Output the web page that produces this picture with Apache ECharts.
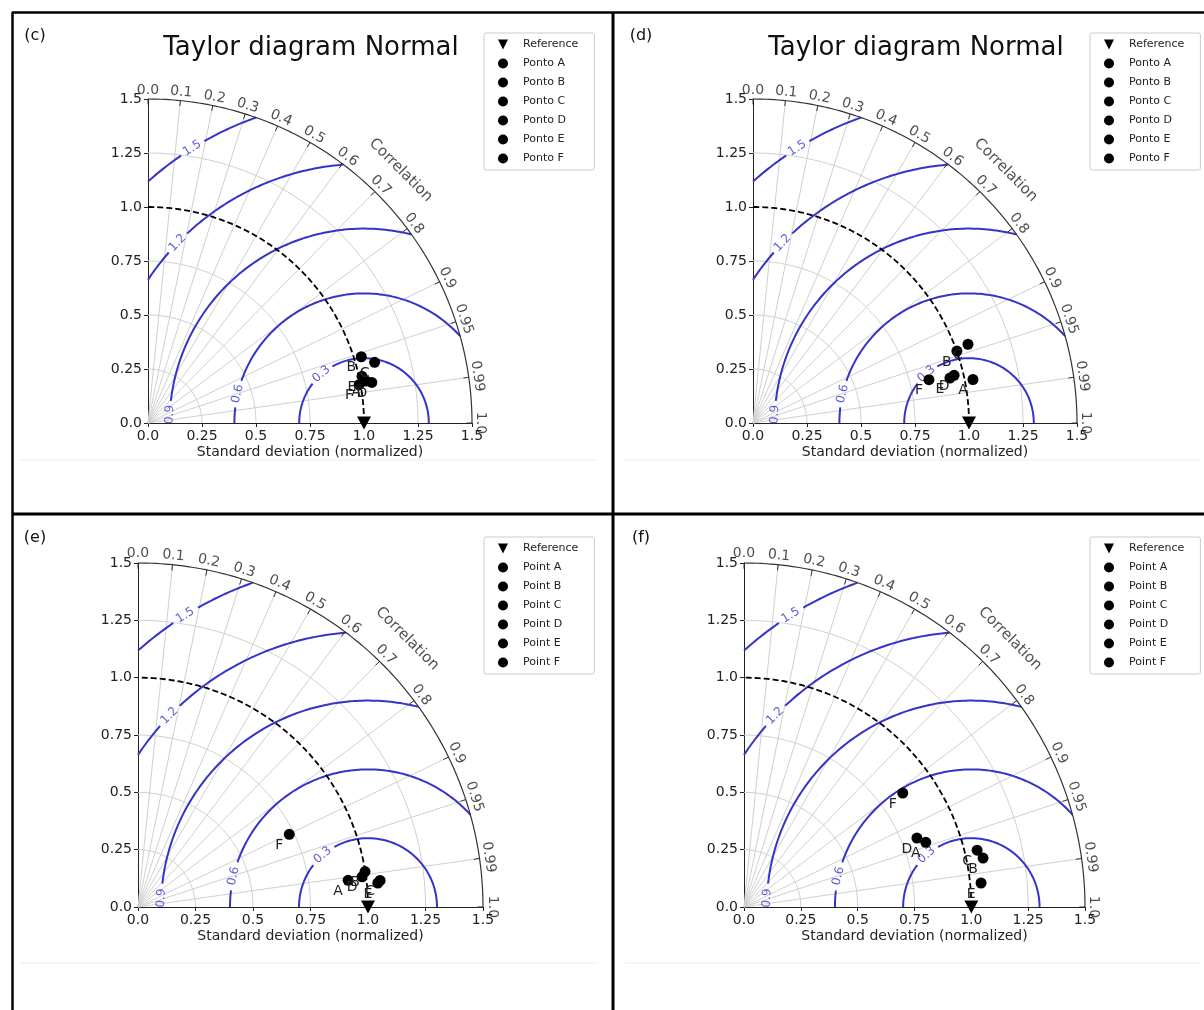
<!DOCTYPE html>
<html>
<head>
<meta charset="utf-8">
<title>Taylor diagrams</title>
<script src="https://cdn.jsdelivr.net/npm/echarts@6/dist/echarts.min.js"></script>
<style>
  html, body { margin: 0; padding: 0; background: #fff; }
  #main { width: 1204px; height: 1010px; }
</style>
</head>
<body>
<div id="main"></div>
<script>
// letters of the points, same order in every panel
const pointLetters = ['A', 'B', 'C', 'D', 'E', 'F'];

// normalized standard deviation and correlation of each point (A..F)
const stdC  = [1.028, 1.034, 1.086, 1.053, 1.014, 0.993];
const corrC = [0.982, 0.955, 0.966, 0.984, 0.977, 0.984];
const stdD  = [1.038, 1.001, 1.060, 0.957, 0.935, 0.839];
const corrD = [0.981, 0.943, 0.939, 0.973, 0.975, 0.971];
const stdE  = [0.921, 0.999, 1.059, 0.983, 1.048, 0.730];
const corrE = [0.992, 0.988, 0.994, 0.991, 0.995, 0.901];
const stdF  = [0.848, 1.073, 1.055, 0.818, 1.048, 0.857];
const corrF = [0.943, 0.980, 0.972, 0.930, 0.995, 0.815];

const refStd = 1.0;
const stdMax = 1.5;
const corrTicks = [0, 0.1, 0.2, 0.3, 0.4, 0.5, 0.6, 0.7, 0.8, 0.9, 0.95, 0.99, 1.0];
const corrTickLabels = ['0.0', '0.1', '0.2', '0.3', '0.4', '0.5', '0.6', '0.7', '0.8', '0.9', '0.95', '0.99', '1.0'];
const stdGridLevels = [0.25, 0.5, 0.75, 1.25];
const rmsLevels = [0.3, 0.6, 0.9, 1.2, 1.5];
const rmsLabels = ['0.3', '0.6', '0.9', '1.2', '1.5'];

const FONT = 'DejaVu Sans';
const BLUE = '#3434c8';
const GAP = ['-', '-'];

// where each rms label sits on its contour (degrees around the reference point)
const rmsLabelAngle = { 0.3: 131, 0.6: 167, 0.9: 177.5, 1.2: 136, 1.5: 122 };

const panels = [
    { tag: '(c)', title: true, word: 'Ponto', std: stdC, corr: corrC,
      box: [148, 99, 324, 324], legend: [484, 33], tagPos: [35, 36], titleX: 311, rule: [20, 598, 460] },
    { tag: '(d)', title: true, word: 'Ponto', std: stdD, corr: corrD,
      box: [753, 99, 324, 324], legend: [1090, 33], tagPos: [641, 36], titleX: 916, rule: [625, 1200, 460] },
    { tag: '(e)', title: false, word: 'Point', std: stdE, corr: corrE,
      box: [138, 563, 345, 344], legend: [484, 537], tagPos: [35, 538], rule: [20, 598, 963] },
    { tag: '(f)', title: false, word: 'Point', std: stdF, corr: corrF,
      box: [744, 563, 341, 344], legend: [1090, 537], tagPos: [641, 538], rule: [625, 1200, 963] }
];

const toXY = (s, r) => [s * r, s * Math.sqrt(Math.max(0, 1 - r * r))];

function arc(r, n) {
    const pts = [];
    for (let i = 0; i <= n; i++) {
        const a = (Math.PI / 2) * i / n;
        pts.push([r * Math.cos(a), r * Math.sin(a)]);
    }
    return pts;
}

function gridLines() {
    let d = [];
    stdGridLevels.forEach(s => { d = d.concat(arc(s, 90)); d.push(GAP); });
    corrTicks.slice(1, -1).forEach(r => { d.push([0, 0], toXY(stdMax, r), GAP); });
    return d;
}

function outerTicks() {
    const d = [];
    corrTicks.forEach(r => {
        d.push(toXY(stdMax, r), toXY(stdMax - 0.025, r), GAP);
    });
    return d;
}

function rmsContours() {
    const d = [];
    rmsLevels.forEach(r => {
        const lo = Math.acos(Math.min(1, (stdMax * stdMax - 1 - r * r) / (2 * r)));
        const hi = Math.acos(Math.max(-1, -1 / r));
        const lab = rmsLabelAngle[r] * Math.PI / 180;
        const half = 0.06 / r;
        const n = 240;
        for (let i = 0; i <= n; i++) {
            const a = lo + (hi - lo) * i / n;
            if (Math.abs(a - lab) < half) {
                if (d.length && d[d.length - 1] !== GAP) d.push(GAP);
                continue;
            }
            d.push([refStd + r * Math.cos(a), r * Math.sin(a)]);
        }
        d.push(GAP);
    });
    return d;
}

function rmsLabelData() {
    return rmsLevels.map((r, i) => {
        const a = rmsLabelAngle[r] * Math.PI / 180;
        return {
            value: [refStd + r * Math.cos(a), r * Math.sin(a)],
            label: { formatter: rmsLabels[i], rotate: rmsLabelAngle[r] - 90 }
        };
    });
}

function corrLabelData() {
    return corrTicks.map((r, i) => {
        const deg = Math.acos(r) * 180 / Math.PI;
        return { value: toXY(1.54, r), label: { formatter: corrTickLabels[i], rotate: deg - 90 } };
    });
}

const tickFmt = v => (v % 1 === 0 ? v.toFixed(1) : String(v));

const xAxes = [], yAxes = [], grids = [], series = [], legends = [], graphics = [];

panels.forEach((p, i) => {
    grids.push({ left: p.box[0], top: p.box[1], width: p.box[2], height: p.box[3] });
    const axisBase = {
        gridIndex: i, type: 'value', min: 0, max: stdMax, interval: 0.25,
        axisLine: { show: true, onZero: false, lineStyle: { color: '#222', width: 1 } },
        axisTick: { show: true, length: 4, lineStyle: { color: '#222' } },
        axisLabel: { formatter: tickFmt, fontSize: 14, color: '#222', fontFamily: FONT, margin: 6,
                     showMinLabel: true, showMaxLabel: true },
        splitLine: { show: false }
    };
    xAxes.push(Object.assign({}, axisBase, {
        name: 'Standard deviation (normalized)', nameLocation: 'middle', nameGap: 22,
        nameTextStyle: { fontSize: 14, color: '#222', fontFamily: FONT }
    }));
    yAxes.push(Object.assign({}, axisBase));

    const common = { xAxisIndex: i, yAxisIndex: i, silent: true, animation: false };
    const line = Object.assign({ type: 'line', showSymbol: false, symbol: 'none', clip: false, connectNulls: false }, common);

    series.push(Object.assign({}, line, { data: gridLines(), lineStyle: { color: '#d0d0d0', width: 1 }, z: 1 }));
    series.push(Object.assign({}, line, { data: arc(stdMax, 120), lineStyle: { color: '#333', width: 1.2 }, z: 3 }));
    series.push(Object.assign({}, line, { data: outerTicks(), lineStyle: { color: '#333', width: 1 }, z: 3 }));
    series.push(Object.assign({}, line, { data: arc(refStd, 120), lineStyle: { color: '#000', width: 1.8, type: [6, 3] }, z: 4 }));
    series.push(Object.assign({}, line, { data: rmsContours(), lineStyle: { color: BLUE, width: 2 }, z: 2 }));

    series.push(Object.assign({ type: 'scatter', symbolSize: 0, clip: false, data: rmsLabelData(),
        label: { show: true, position: 'inside', color: BLUE, fontSize: 12, fontFamily: FONT } }, common));
    series.push(Object.assign({ type: 'scatter', symbolSize: 0, clip: false, data: corrLabelData(),
        label: { show: true, position: 'inside', color: '#222', fontSize: 14, fontFamily: FONT } }, common));
    series.push(Object.assign({ type: 'scatter', symbolSize: 0, clip: false,
        data: [{ value: toXY(1.655, Math.cos(Math.PI / 4)) }],
        label: { show: true, position: 'inside', formatter: 'Correlation', rotate: -45,
                 color: '#222', fontSize: 15, fontFamily: FONT } }, common));

    series.push(Object.assign({ name: 'Reference', type: 'scatter', symbol: 'triangle', symbolRotate: 180,
        symbolSize: [14, 13], clip: false, data: [[refStd, 0]], itemStyle: { color: '#000', opacity: 1 }, z: 6 }, common));

    pointLetters.forEach((l, k) => {
        series.push(Object.assign({ name: p.word + ' ' + l, type: 'scatter', symbol: 'circle', symbolSize: 11,
            clip: false, data: [toXY(p.std[k], p.corr[k])], itemStyle: { color: '#000', opacity: 1 }, z: 5,
            label: { show: true, position: 'inside', formatter: l, offset: [-10, 11],
                     color: '#222', fontSize: 14, fontFamily: FONT } }, common));
    });

    legends.push({
        orient: 'vertical', left: p.legend[0], top: p.legend[1], selectedMode: false,
        itemWidth: 10, itemHeight: 10, itemGap: 8,
        borderColor: '#cccccc', borderWidth: 1, borderRadius: 2, padding: [6, 16, 6, 14],
        itemStyle: { opacity: 1 },
        textStyle: { fontSize: 11, color: '#222', fontFamily: FONT, padding: [0, 0, 0, 10] },
        data: [{ name: 'Reference', icon: 'path://M0,0L10,0L5,10Z' }]
            .concat(pointLetters.map(l => ({ name: p.word + ' ' + l, icon: 'circle' })))
    });

    graphics.push({ type: 'text', x: p.tagPos[0], y: p.tagPos[1],
        style: { text: p.tag, font: '16px "DejaVu Sans"', fill: '#111', textAlign: 'center', textVerticalAlign: 'middle' } });
    if (p.title) {
        graphics.push({ type: 'text', x: p.titleX, y: 48,
            style: { text: 'Taylor diagram Normal', font: '26px "DejaVu Sans"', fill: '#111',
                     textAlign: 'center', textVerticalAlign: 'middle' } });
    }
    graphics.push({ type: 'line', shape: { x1: p.rule[0], y1: p.rule[2], x2: p.rule[1], y2: p.rule[2] },
        style: { stroke: '#ececec', lineWidth: 1 } });
});

// panel frame
[[12, 12.5, 1204, 12.5, 2.5], [12.5, 12, 12.5, 1010, 2.5], [613, 12, 613, 1010, 3], [12, 514, 1204, 514, 3]]
    .forEach(s => graphics.push({ type: 'line', z: 100,
        shape: { x1: s[0], y1: s[1], x2: s[2], y2: s[3] }, style: { stroke: '#000', lineWidth: s[4] } }));

const chart = echarts.init(document.getElementById('main'));
chart.setOption({
    animation: false,
    backgroundColor: '#fff',
    textStyle: { fontFamily: FONT },
    grid: grids,
    xAxis: xAxes,
    yAxis: yAxes,
    legend: legends,
    graphic: graphics,
    series: series
});
</script>
</body>
</html>
